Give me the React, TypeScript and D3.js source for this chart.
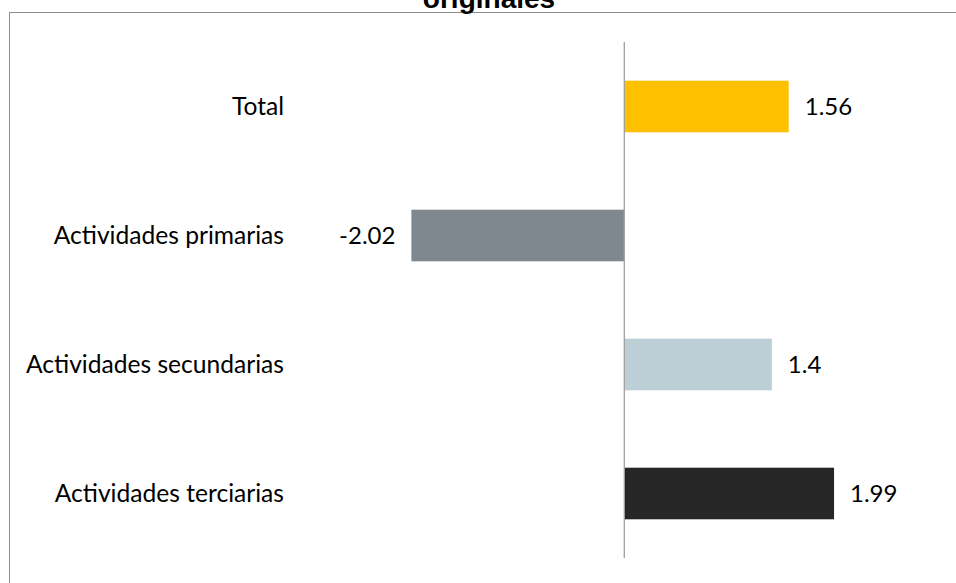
import React from "react";
import * as d3 from "d3";

const categories = ["Total", "Actividades primarias", "Actividades secundarias", "Actividades terciarias"];
const values = [1.56, -2.02, 1.4, 1.99];
const colors = ["#FFC000", "#7F888E", "#BDCFD6", "#262626"];
const valueLabels = ["1.56", "-2.02", "1.4", "1.99"];
const titleText = "originales";

const W = 956;
const H = 583;

export default function App() {
  const x = d3.scaleLinear().domain([-3, 3]).range([624.3 - 316.2, 624.3 + 316.2]);
  const y = d3.scaleBand<string>().domain(categories).range([42, 558]).paddingInner(0.6).paddingOuter(0.3);
  const x0 = x(0);
  const font = "Lato, 'Open Sans', sans-serif";
  return (
    <svg width={W} height={H} style={{ position: "absolute", left: 0, top: 0, background: "#fff" }}>
      <rect x={9.5} y={12.5} width={1200} height={1200} fill="none" stroke="#8c8c8c" strokeWidth={1} />
      <text x={489} y={7.5} textAnchor="middle" fontFamily="'Liberation Sans', Arial, sans-serif" fontWeight="bold" fontSize={28} fill="#000">
        {titleText}
      </text>
      {categories.map((c, i) => {
        const v = values[i];
        const yy = y(c)!;
        const bw = y.bandwidth();
        const left = Math.min(x(v), x0);
        const width = Math.abs(x(v) - x0);
        const cy = yy + bw / 2;
        return (
          <g key={c}>
            <rect x={left} y={yy} width={width} height={bw} fill={colors[i]} />
            <text
              x={v >= 0 ? x(v) + 16 : x(v) - 16}
              y={cy}
              dy="0.36em"
              textAnchor={v >= 0 ? "start" : "end"}
              fontFamily={font}
              fontSize={24}
              fill="#000"
            >
              {valueLabels[i]}
            </text>
            <text x={284} y={cy} dy="0.36em" textAnchor="end" fontFamily={font} fontSize={24.6} fill="#000">
              {c}
            </text>
          </g>
        );
      })}
      <line x1={x0} x2={x0} y1={42} y2={558} stroke="#a0a0a0" strokeWidth={1.3} />
    </svg>
  );
}
